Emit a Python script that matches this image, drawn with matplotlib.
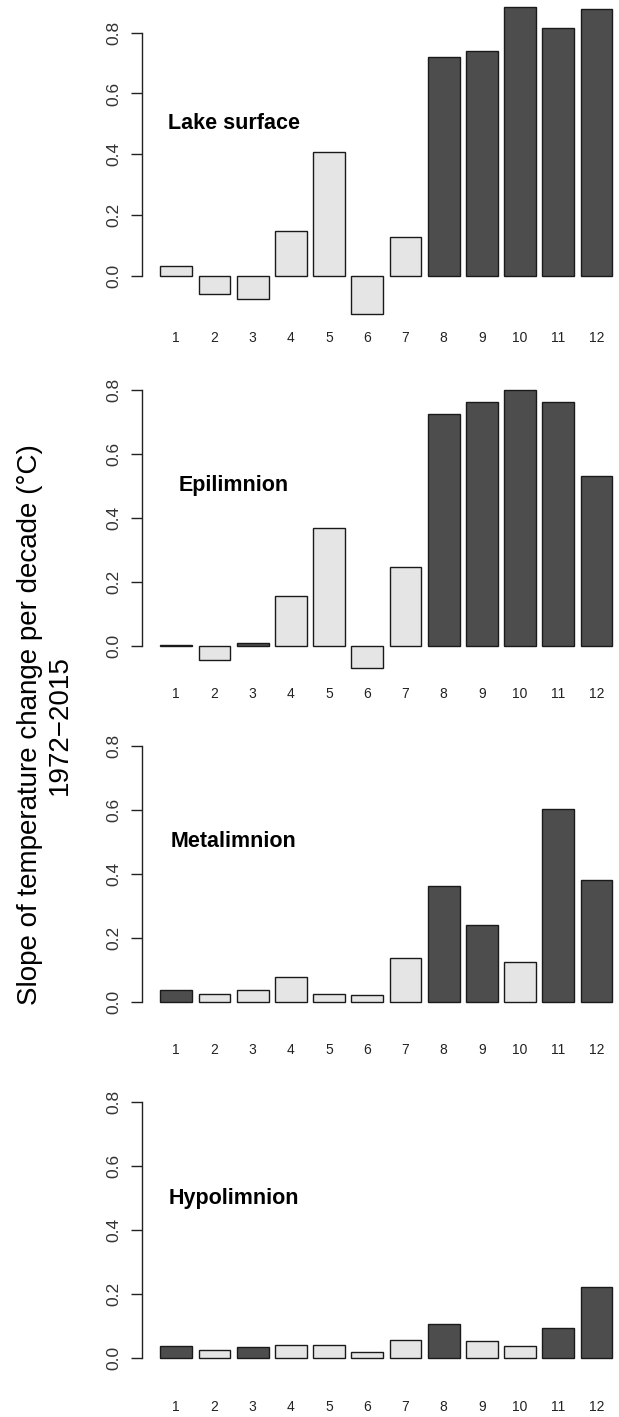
import numpy as np
import matplotlib
matplotlib.use("Agg")
import matplotlib.pyplot as plt

plt.rcParams['font.family'] = ['Liberation Sans', 'DejaVu Sans']

# --- data ---
months = [str(m) for m in range(1, 13)]
layers = ["Lake surface", "Epilimnion", "Metalimnion", "Hypolimnion"]

surface = [0.033, -0.059, -0.076, 0.146, 0.406, -0.127, 0.126, 0.719, 0.740, 0.886, 0.814, 0.877]
epilimnion = [0.002, -0.044, 0.008, 0.156, 0.367, -0.069, 0.247, 0.724, 0.763, 0.801, 0.762, 0.530]
metalimnion = [0.039, 0.027, 0.038, 0.079, 0.025, 0.022, 0.138, 0.363, 0.240, 0.127, 0.602, 0.382]
hypolimnion = [0.036, 0.025, 0.033, 0.041, 0.040, 0.019, 0.057, 0.107, 0.053, 0.038, 0.093, 0.221]

# 1 = significant trend (dark bar)
sig_surface = [0, 0, 0, 0, 0, 0, 0, 1, 1, 1, 1, 1]
sig_epilimnion = [0, 0, 1, 0, 0, 0, 0, 1, 1, 1, 1, 1]
sig_metalimnion = [1, 0, 0, 0, 0, 0, 0, 1, 1, 0, 1, 1]
sig_hypolimnion = [1, 0, 1, 0, 0, 0, 0, 1, 0, 0, 1, 1]

series = [surface, epilimnion, metalimnion, hypolimnion]
signif = [sig_surface, sig_epilimnion, sig_metalimnion, sig_hypolimnion]

# --- layout (pixels): zero line, 0.8 line, x label centre ---
W, H = 619, 1417
panels_px = [(275.7, 32.7, 339), (645.7, 390.0, 695), (1002.3, 745.7, 1051), (1357.7, 1102.3, 1408)]
x_left_px, x_right_px = 142.3, 630.5

dark, light = "#4d4d4d", "#e5e5e5"

fig = plt.figure(figsize=(W / 100, H / 100), dpi=100)

# R style bar positions: width 1, space 0.2
pos = 0.2 + 1.2 * np.arange(12) + 0.5
xlim = (-0.368, 14.968)

for vals, sig, name, (y0, y8, lab) in zip(series, signif, layers, panels_px):
    s = (y0 - y8) / 0.8
    lo = -(lab - 12 - y0) / s
    hi = 0.95
    top_px = y0 - hi * s
    bot_px = y0 - lo * s
    ax = fig.add_axes([x_left_px / W, 1 - bot_px / H,
                       (x_right_px - x_left_px) / W, (bot_px - top_px) / H])
    cols = [dark if k else light for k in sig]
    ax.bar(pos, vals, width=1.0, color=cols, edgecolor="#1a1a1a", linewidth=1.0, clip_on=False)
    ax.set_xlim(*xlim)
    ax.set_ylim(lo, hi)
    ax.patch.set_visible(False)
    for sp in ["top", "right", "bottom"]:
        ax.spines[sp].set_visible(False)
    ax.spines["left"].set_bounds(0, 0.8)
    ax.spines["left"].set_linewidth(1.0)
    ax.spines["left"].set_color("#222222")
    ax.set_yticks([0.0, 0.2, 0.4, 0.6, 0.8])
    ax.set_yticklabels(["0.0", "0.2", "0.4", "0.6", "0.8"], rotation=90, va="center")
    ax.tick_params(axis="y", length=8, width=1.0, color="#222222", labelsize=12.5,
                   labelcolor="#333333", pad=7)
    ax.set_xticks(pos)
    ax.set_xticklabels(months)
    ax.tick_params(axis="x", length=0, labelsize=10, labelcolor="#222222", pad=3)
    ax.text(2.5, 0.5, name, ha="center", va="center", fontsize=15.5, fontweight="bold")

fig.text(45 / W, 1 - 725 / H,
         "Slope of temperature change per decade (\u00b0C)\n1972\u22122015",
         rotation=90, ha="center", va="center", fontsize=20, linespacing=1.15)

fig.savefig("out.png", dpi=100)
